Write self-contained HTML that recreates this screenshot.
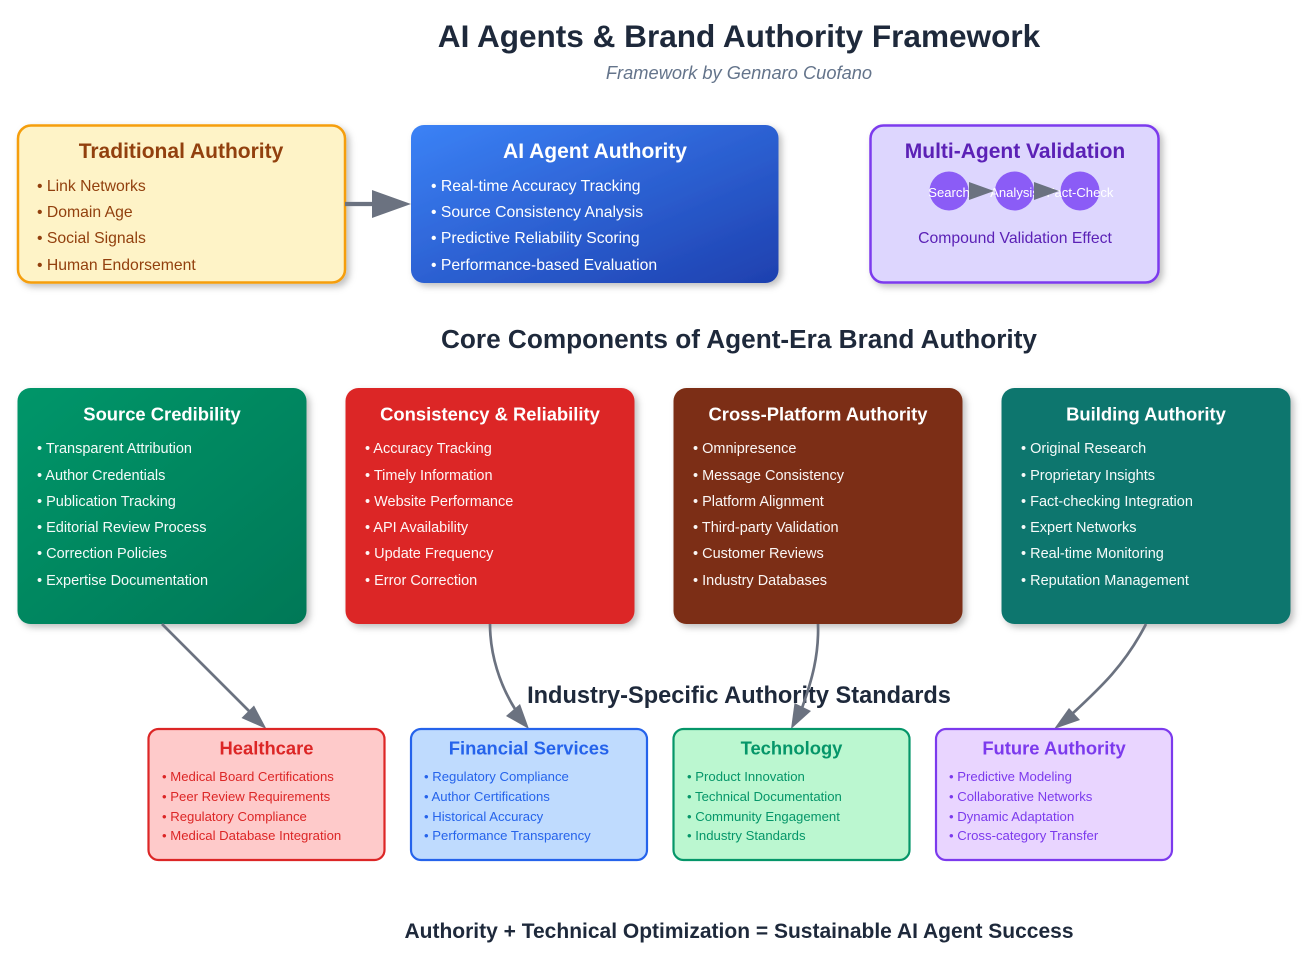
<!DOCTYPE html>
<html>
<head>
<meta charset="utf-8">
<style>
html,body{margin:0;padding:0;background:#fff;width:1306px;height:966px;overflow:hidden}
svg{display:block}
text{font-family:"Liberation Sans",Arial,sans-serif}
.b{font-weight:bold}
.m{text-anchor:middle}
.l1{font-size:15.75px}
.l2{font-size:14.5px;fill:#fff;fill-opacity:.96}
.l3{font-size:13.15px}
.h1{font-size:21px;font-weight:bold;text-anchor:middle}
.h2{font-size:18.4px;font-weight:bold;text-anchor:middle;fill:#fff}
.h3{font-size:18.4px;font-weight:bold;text-anchor:middle}
.sec{font-weight:bold;text-anchor:middle;fill:#1e293b}
</style>
</head>
<body>
<svg width="1306" height="966" viewBox="0 0 1306 966" xmlns="http://www.w3.org/2000/svg">
<defs>
<linearGradient id="gb" x1="0" y1="0" x2="1" y2="1"><stop offset="0" stop-color="#3b82f6"/><stop offset="1" stop-color="#1e40af"/></linearGradient>
<linearGradient id="gg" x1="0" y1="0" x2="1" y2="1"><stop offset="0" stop-color="#059669"/><stop offset="1" stop-color="#047857"/></linearGradient>
<filter id="s" x="-10%" y="-10%" width="125%" height="125%"><feDropShadow dx="3.3" dy="3.3" stdDeviation="3.5" flood-color="#000" flood-opacity=".25"/></filter>
</defs>

<text class="b m" x="739" y="47" font-size="31.55" fill="#1e293b">AI Agents &amp; Brand Authority Framework</text>
<text class="m" x="739" y="79" font-size="18.3" font-style="italic" fill="#64748b">Framework by Gennaro Cuofano</text>

<!-- top row -->
<rect x="18" y="125.500" width="327" height="157" rx="13" fill="#fef3c7" stroke="#f59e0b" stroke-width="2.5" filter="url(#s)"/>
<text class="h1" x="181" y="158" fill="#92400e">Traditional Authority</text>
<g class="l1" fill="#92400e">
<text x="37" y="191">• Link Networks</text>
<text x="37" y="217">• Domain Age</text>
<text x="37" y="243">• Social Signals</text>
<text x="37" y="270">• Human Endorsement</text>
</g>

<rect x="411" y="125" width="367.500" height="158" rx="13" fill="url(#gb)" filter="url(#s)"/>
<text class="h1" x="595" y="158" fill="#fff">AI Agent Authority</text>
<g class="l1" fill="#fff">
<text x="431" y="191">• Real-time Accuracy Tracking</text>
<text x="431" y="217">• Source Consistency Analysis</text>
<text x="431" y="243">• Predictive Reliability Scoring</text>
<text x="431" y="270">• Performance-based Evaluation</text>
</g>

<rect x="870.500" y="125.500" width="288" height="157" rx="13" fill="#ddd6fe" stroke="#7c3aed" stroke-width="2.5" filter="url(#s)"/>
<text class="h1" x="1015" y="158" fill="#5b21b6">Multi-Agent Validation</text>
<circle cx="949" cy="191" r="19.500" fill="#8b5cf6"/>
<circle cx="1014.500" cy="191" r="19.500" fill="#8b5cf6"/>
<circle cx="1080" cy="191" r="19.500" fill="#8b5cf6"/>
<g font-size="13.1" fill="#fff">
<text class="m" x="949" y="197">Search</text>
<text class="m" x="1014.500" y="197">Analysis</text>
<text class="m" x="1080" y="197">Fact-Check</text>
</g>
<polygon points="969,182 994,191 969,200" fill="#6b7280"/>
<polygon points="1034,182 1059,191 1034,200" fill="#6b7280"/>
<text class="m" x="1015" y="243" font-size="15.75" fill="#5b21b6">Compound Validation Effect</text>

<!-- arrow top -->
<line x1="345" y1="204" x2="375" y2="204" stroke="#6b7280" stroke-width="4.300"/>
<polygon points="372,190 411,204 372,218" fill="#6b7280"/>

<text class="sec" x="739" y="348" font-size="26.200">Core Components of Agent-Era Brand Authority</text>

<!-- core row -->
<rect x="17.500" y="388" width="289" height="236" rx="13" fill="url(#gg)" filter="url(#s)"/>
<text class="h2" x="162" y="420.500">Source Credibility</text>
<g class="l2">
<text x="37" y="453">• Transparent Attribution</text>
<text x="37" y="480">• Author Credentials</text>
<text x="37" y="506">• Publication Tracking</text>
<text x="37" y="532">• Editorial Review Process</text>
<text x="37" y="558">• Correction Policies</text>
<text x="37" y="585">• Expertise Documentation</text>
</g>

<rect x="345.500" y="388" width="289" height="236" rx="13" fill="#dc2626" filter="url(#s)"/>
<text class="h2" x="490" y="420.500">Consistency &amp; Reliability</text>
<g class="l2">
<text x="365" y="453">• Accuracy Tracking</text>
<text x="365" y="480">• Timely Information</text>
<text x="365" y="506">• Website Performance</text>
<text x="365" y="532">• API Availability</text>
<text x="365" y="558">• Update Frequency</text>
<text x="365" y="585">• Error Correction</text>
</g>

<rect x="673.500" y="388" width="289" height="236" rx="13" fill="#7c2d12" filter="url(#s)"/>
<text class="h2" x="818" y="420.500">Cross-Platform Authority</text>
<g class="l2">
<text x="693" y="453">• Omnipresence</text>
<text x="693" y="480">• Message Consistency</text>
<text x="693" y="506">• Platform Alignment</text>
<text x="693" y="532">• Third-party Validation</text>
<text x="693" y="558">• Customer Reviews</text>
<text x="693" y="585">• Industry Databases</text>
</g>

<rect x="1001.500" y="388" width="289" height="236" rx="13" fill="#0f766e" filter="url(#s)"/>
<text class="h2" x="1146" y="420.500">Building Authority</text>
<g class="l2">
<text x="1021" y="453">• Original Research</text>
<text x="1021" y="480">• Proprietary Insights</text>
<text x="1021" y="506">• Fact-checking Integration</text>
<text x="1021" y="532">• Expert Networks</text>
<text x="1021" y="558">• Real-time Monitoring</text>
<text x="1021" y="585">• Reputation Management</text>
</g>

<text class="sec" x="739" y="703" font-size="23.600">Industry-Specific Authority Standards</text>

<!-- connectors -->
<g fill="none" stroke="#6b7280" stroke-width="2.700">
<path d="M162 624 L250 712"/>
<path d="M490 624 C490 655 500 685 515 709"/>
<path d="M818 624 C819 655 812 680 802 708"/>
<path d="M1146 624 C1125 665 1100 688 1072 714"/>
</g>
<g fill="#6b7280">
<polygon points="266.500,729 241.500,718 254,705.500"/>
<polygon points="529,729 506,716 520,704"/>
<polygon points="791,729 794.500,703 811,711"/>
<polygon points="1054,729 1069,708 1080,720"/>
</g>

<!-- bottom row -->
<rect x="148.500" y="729" width="236" height="131" rx="10" fill="#fecaca" stroke="#dc2626" stroke-width="2.200"/>
<text class="h3" x="266.500" y="754.500" fill="#dc2626">Healthcare</text>
<g class="l3" fill="#dc2626">
<text x="162" y="781">• Medical Board Certifications</text>
<text x="162" y="801">• Peer Review Requirements</text>
<text x="162" y="821">• Regulatory Compliance</text>
<text x="162" y="840">• Medical Database Integration</text>
</g>

<rect x="411" y="729" width="236" height="131" rx="10" fill="#bfdbfe" stroke="#2563eb" stroke-width="2.200"/>
<text class="h3" x="529" y="754.500" fill="#2563eb">Financial Services</text>
<g class="l3" fill="#2563eb">
<text x="424" y="781">• Regulatory Compliance</text>
<text x="424" y="801">• Author Certifications</text>
<text x="424" y="821">• Historical Accuracy</text>
<text x="424" y="840">• Performance Transparency</text>
</g>

<rect x="673.500" y="729" width="236" height="131" rx="10" fill="#bbf7d0" stroke="#059669" stroke-width="2.200"/>
<text class="h3" x="791.500" y="754.500" fill="#059669">Technology</text>
<g class="l3" fill="#059669">
<text x="687" y="781">• Product Innovation</text>
<text x="687" y="801">• Technical Documentation</text>
<text x="687" y="821">• Community Engagement</text>
<text x="687" y="840">• Industry Standards</text>
</g>

<rect x="936" y="729" width="236" height="131" rx="10" fill="#e9d5ff" stroke="#7c3aed" stroke-width="2.200"/>
<text class="h3" x="1054" y="754.500" fill="#7c3aed">Future Authority</text>
<g class="l3" fill="#7c3aed">
<text x="949" y="781">• Predictive Modeling</text>
<text x="949" y="801">• Collaborative Networks</text>
<text x="949" y="821">• Dynamic Adaptation</text>
<text x="949" y="840">• Cross-category Transfer</text>
</g>

<text class="sec" x="739" y="938" font-size="21">Authority + Technical Optimization = Sustainable AI Agent Success</text>
</svg>
</body>
</html>
